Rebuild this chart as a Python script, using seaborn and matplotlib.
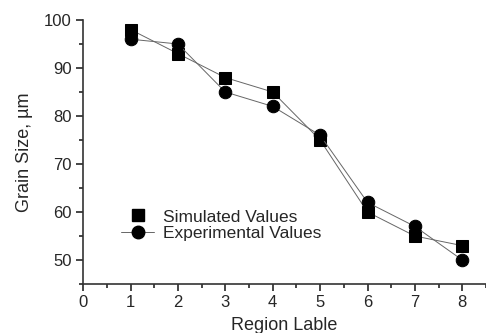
import matplotlib
matplotlib.use('Agg')
import matplotlib.pyplot as plt
from matplotlib.lines import Line2D
from matplotlib.ticker import MultipleLocator
import pandas as pd
import seaborn as sns

regions = [1, 2, 3, 4, 5, 6, 7, 8]
simulated = [98, 93, 88, 85, 75, 60, 55, 53]
experimental = [96, 95, 85, 82, 76, 62, 57, 50]

df = pd.DataFrame({'region': regions, 'simulated': simulated, 'experimental': experimental})

sns.set_style('ticks')
plt.rcParams['font.family'] = ['Liberation Sans', 'DejaVu Sans']

fig = plt.figure(figsize=(4.86, 3.33), dpi=100)
ax = fig.add_axes([0.171, 0.147, 0.829, 0.793])

sns.lineplot(data=df, x='region', y='simulated', ax=ax, color='#666666', lw=0.7,
             marker='s', markersize=8, markerfacecolor='black', markeredgecolor='black')
sns.lineplot(data=df, x='region', y='experimental', ax=ax, color='#666666', lw=0.7,
             marker='o', markersize=9, markerfacecolor='black', markeredgecolor='black')

ax.set_xlim(0, 8.5)
ax.set_ylim(45, 100)
ax.xaxis.set_major_locator(MultipleLocator(1))
ax.xaxis.set_minor_locator(MultipleLocator(0.5))
ax.yaxis.set_minor_locator(MultipleLocator(5))
ax.set_yticks(range(50, 101, 10))
ax.tick_params(which='major', length=5, width=1.2, labelsize=12, direction='out', pad=3)
ax.tick_params(which='minor', length=3, width=1.2, direction='out')
for s in ['top', 'right']:
    ax.spines[s].set_visible(False)
for s in ['left', 'bottom']:
    ax.spines[s].set_color('#333333')
    ax.spines[s].set_linewidth(1.2)

ax.set_xlabel('Region Lable', fontsize=13, labelpad=5)
ax.set_ylabel('Grain Size, µm', fontsize=13, labelpad=8)

handles = [
    Line2D([], [], ls='none', marker='s', markersize=8, color='black'),
    Line2D([], [], color='#666666', lw=0.7, marker='o', markersize=9, markerfacecolor='black',
           markeredgecolor='black'),
]
ax.legend(handles, ['Simulated Values', 'Experimental Values'], loc='lower left',
          bbox_to_anchor=(0.077, 0.135), frameon=False, fontsize=12.5, handlelength=1.9,
          handletextpad=0.5, labelspacing=0.1, borderaxespad=0)

fig.savefig('out.png', dpi=100)
